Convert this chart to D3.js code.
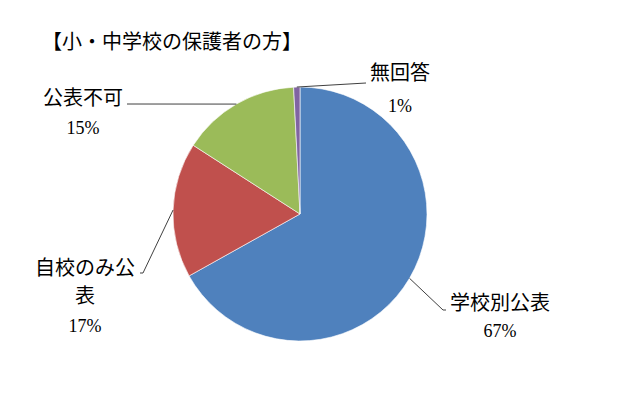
<!DOCTYPE html>
<html>
<head>
<meta charset="utf-8">
<script src="https://cdn.jsdelivr.net/npm/d3@7"></script>
<style>
  body { margin: 0; background: #fff; }
  text { font-family: "Liberation Serif", "Noto Sans CJK JP", serif; fill: #000; }
</style>
</head>
<body>
<svg width="640" height="397"></svg>
<script>
const title = '【小・中学校の保護者の方】';
const categories = ['学校別公表', '自校のみ公表', '公表不可', '無回答'];
const values = [66.9, 17.2, 15.1, 0.8];
const pctLabels = ['67%', '17%', '15%', '1%'];
const colors = ['#4F81BD', '#C0504D', '#9BBB59', '#8064A2'];

const svgWidth = 640;
const svgHeight = 397;
const cx = 300, cy = 214;
const radius = 127;

const svg = d3.select('svg')
  .attr('width', svgWidth)
  .attr('height', svgHeight);

svg.append('text')
  .attr('x', 42)
  .attr('y', 49)
  .style('font-size', '20px')
  .text(title);

// pie group
const g = svg.append('g')
  .attr('transform', 'translate(' + cx + ',' + cy + ')');

const pie = d3.pie().sort(null).value(d => d.value);
const path = d3.arc().outerRadius(radius).innerRadius(0);
const edge = d3.arc().outerRadius(radius).innerRadius(radius);

const data = categories.map((c, i) => ({name: c, value: values[i], pct: pctLabels[i], color: colors[i]}));
const arcs = pie(data);

g.selectAll('path')
  .data(arcs)
  .enter()
  .append('path')
  .attr('d', path)
  .attr('fill', d => d.data.color)
  .attr('stroke', '#fff')
  .attr('stroke-width', 0.6);

// label layout (leader end points and text blocks), per category
const layout = {
  '学校別公表': {pts: [[443, 310], [446, 310]], x: 500, lines: [['学校別公表', 310, 20], ['67%', 337, 18]]},
  '自校のみ公表': {pts: [[143, 273], [140, 273]], x: 85, lines: [['自校のみ公', 275, 20], ['表', 303, 20], ['17%', 332, 18]]},
  '公表不可': {pts: [[127, 104]], x: 83, lines: [['公表不可', 105, 20], ['15%', 134, 18]]},
  '無回答': {pts: [[366, 83]], x: 400, lines: [['無回答', 80, 20], ['1%', 112, 18]]}
};

const line = d3.line();

arcs.forEach(a => {
  const lay = layout[a.data.name];
  const c = edge.centroid(a);
  const start = [cx + c[0], cy + c[1]];
  svg.append('path')
    .attr('d', line([start].concat(lay.pts)))
    .attr('fill', 'none')
    .attr('stroke', '#404040')
    .attr('stroke-width', 1);
  lay.lines.forEach(l => {
    svg.append('text')
      .attr('x', lay.x)
      .attr('y', l[1])
      .attr('text-anchor', 'middle')
      .style('font-size', l[2] + 'px')
      .text(l[0] === a.data.pct ? a.data.pct : l[0]);
  });
});
</script>
</body>
</html>
